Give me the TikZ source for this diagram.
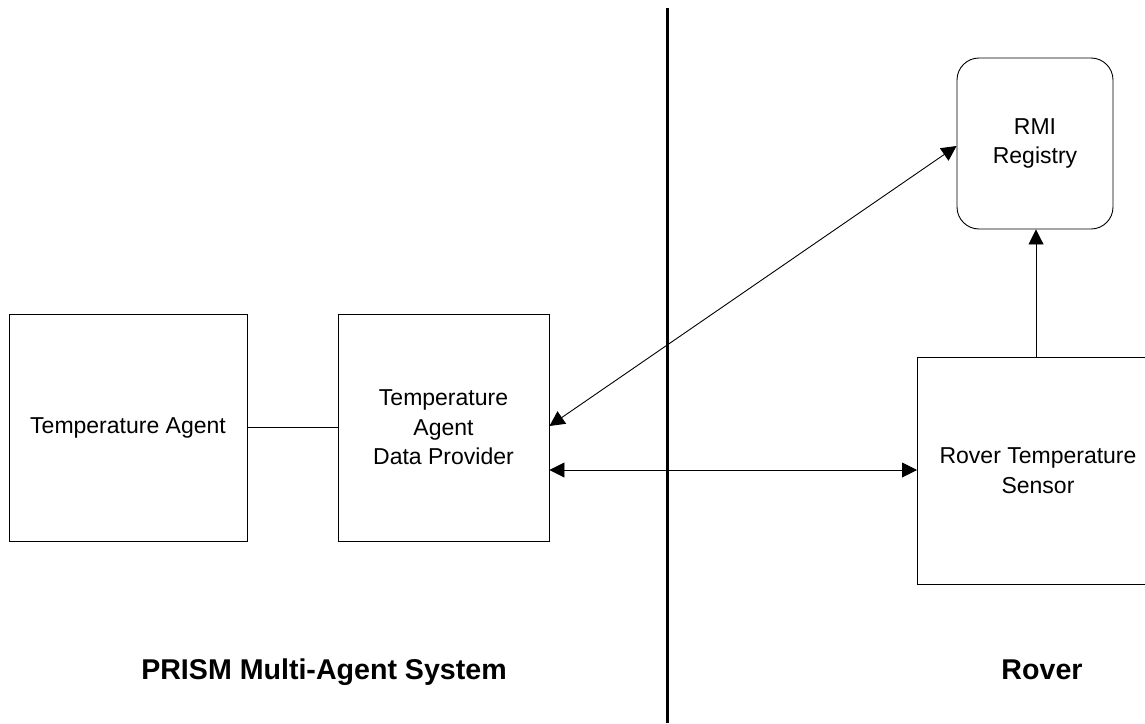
\documentclass[tikz,border=0pt]{standalone}
\usepackage{fontspec}
\setmainfont{Liberation Sans}
\usetikzlibrary{arrows.meta}
\begin{document}
\begin{tikzpicture}[x=1pt,y=-1pt,
  box/.style={draw, line width=0.9pt, inner sep=0pt, align=center, font=\fontsize{23}{29.5}\selectfont},
  conn/.style={line width=0.9pt},
  tip/.style={{Triangle[length=15pt,width=15pt]}-{Triangle[length=15pt,width=15pt]}},
  lbl/.style={font=\bfseries\fontsize{28.6}{34}\selectfont, anchor=base}]
\useasboundingbox (0,0) rectangle (1145,723);
\node[box, minimum width=238pt, minimum height=227pt] (ta) at (128,427.5) {Temperature Agent};
\node[box, minimum width=211pt, minimum height=227pt] (tadp) at (443.5,427.5) {Temperature\\Agent\\Data Provider};
\node[box, rounded corners=22pt, minimum width=156pt, minimum height=171pt] (rmi) at (1035,143.5) {RMI\\Registry};
\path[draw, line width=0.9pt] (1148,357) -- (917,357) -- (917,584) -- (1148,584);
\node[align=center, font=\fontsize{23}{29.5}\selectfont, inner sep=0pt] (rts) at (1038,470.5) {Rover Temperature\\Sensor};
\coordinate (rtsW) at (917,470);
\coordinate (rtsN) at (1036,357);
\coordinate (div1) at (667.5,8);
\coordinate (div2) at (667.5,723);
\draw[line width=3.5pt] (div1) -- (div2);
\draw[conn] (ta.east) -- (tadp.east -| tadp.west);
\draw[conn, tip] (tadp.east |- 0,426) -- (rmi.west |- 0,146);
\draw[conn, tip] (tadp.east |- 0,470) -- (rtsW);
\draw[conn, -{Triangle[length=15pt,width=15pt]}] (rtsN) -- (rmi.south -| rtsN);
\node[lbl] (l1) at (324,679) {PRISM Multi-Agent System};
\node[lbl] (l2) at (1042,679) {Rover};
\end{tikzpicture}
\end{document}
